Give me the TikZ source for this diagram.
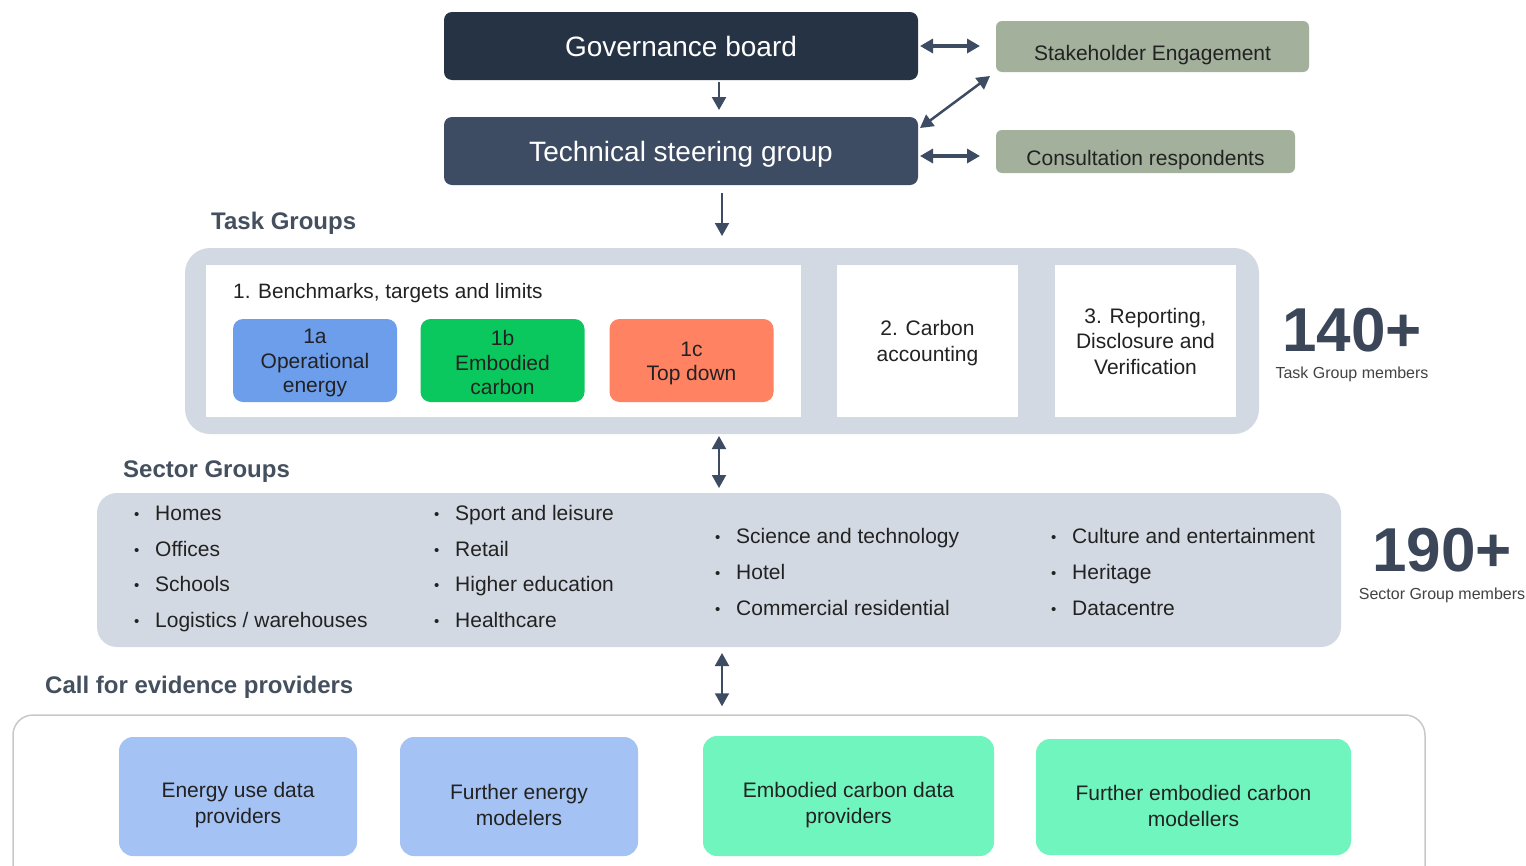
\documentclass[tikz,border=0pt]{standalone}
\usepackage{fontspec}
\setmainfont{Liberation Sans}
\usetikzlibrary{arrows.meta,positioning}
\definecolor{govblue}{HTML}{263345}
\definecolor{techblue}{HTML}{3D4B63}
\definecolor{sage}{HTML}{A3B09C}
\definecolor{panelgrey}{HTML}{D3D9E3}
\definecolor{opblue}{HTML}{6D9EEB}
\definecolor{embgreen}{HTML}{0BC85E}
\definecolor{topred}{HTML}{FF8262}
\definecolor{evblue}{HTML}{A4C2F4}
\definecolor{evgreen}{HTML}{71F5BE}
\definecolor{headgrey}{HTML}{45505F}
\definecolor{numgrey}{HTML}{3B4659}
\definecolor{arrowblue}{HTML}{3D4B63}
\definecolor{textdark}{HTML}{222222}
\definecolor{framegrey}{HTML}{C8C8C8}
\newcommand{\sz}[2]{\fontsize{#1}{#2}\selectfont}
\newcommand{\bul}{\makebox[21pt][l]{\raisebox{1pt}{\sz{15}{15}\textbullet}}}
\newcommand{\lift}[1]{\rule{0pt}{#1}}

\begin{document}
\begin{tikzpicture}[x=1pt,y=-1pt,
      box/.style={rounded corners=8pt,inner sep=0pt,outer sep=0pt,align=center,text=textdark},
      board/.style={box,text=white,minimum width=474pt,minimum height=68pt,text height=20pt,text depth=0pt,font=\sz{28}{32}},
      side/.style={box,fill=sage,rounded corners=6pt,text height=28pt,text depth=0pt,font=\sz{21}{25}},
      panel/.style={fill=panelgrey,rounded corners=#1,inner sep=0pt,outer sep=0pt},
      whitebox/.style={fill=white,inner sep=0pt,outer sep=0pt,minimum height=152pt,align=center,text=textdark,font=\sz{21}{25.5}},
      tgbox/.style={box,fill=#1,rounded corners=10pt,minimum width=164pt,minimum height=83pt,font=\sz{21}{24.5}},
      evbox/.style={box,fill=#1,rounded corners=14pt,font=\sz{21}{26}},
      heading/.style={anchor=west,inner sep=0pt,text=headgrey,font=\bfseries\sz{24}{28}},
      item/.style={anchor=west,inner sep=0pt,text height=17pt,text depth=2pt,text=textdark,font=\sz{21}{24}},
      bignum/.style={inner sep=0pt,text=numgrey,font=\bfseries\sz{62}{62}},
      members/.style={inner sep=0pt,text=textdark!85,font=\sz{16}{18}},
      link/.style={draw=arrowblue,line width=2.5pt,arrows={-Triangle[length=13pt,width=14pt]}},
      twoway/.style={draw=arrowblue,line width=2pt,arrows={Triangle[length=13pt,width=14pt]-Triangle[length=13pt,width=14pt]}}]

  \clip (0,0) rectangle (1526,865);
  \fill[white] (0,0) rectangle (1526,865);

  \node[board,fill=govblue] (gov) at (681,46) {Governance board};
  \node[board,fill=techblue] (tsg) at (681,151) {Technical steering group};
  \node[side,minimum width=313pt,minimum height=51pt] (stake) at (1152.5,46.5) {Stakeholder Engagement};
  \node[side,minimum width=299pt,minimum height=43pt] (consult) at (1145.5,151.5) {Consultation respondents};

  \node[heading] (tglabel) at (211,223) {Task Groups};
  \node[panel=25pt,minimum width=1074pt,minimum height=186pt] (tgpanel) at (722,341) {};
  \node[whitebox,minimum width=595pt] (bench) at (503.5,341) {};
  \node[whitebox,minimum width=181pt] (carbon) at (927.5,341) {\lift{19pt}2. Carbon\\accounting};
  \node[whitebox,minimum width=181pt] (report) at (1145.5,341) {3. Reporting,\\Disclosure and\\Verification};
  \node[anchor=west,inner sep=0pt,text=textdark,font=\sz{20.8}{24}] (benchtitle) at (233,293) {1. Benchmarks, targets and limits};
  \node[tgbox=opblue] (openergy) at (315,360.5) {\lift{20pt}1a\\Operational\\energy};
  \node[tgbox=embgreen] (embcarbon) at (502.5,360.5) {\lift{20pt}1b\\Embodied\\carbon};
  \node[tgbox=topred] (topdown) at (691.5,360.5) {\lift{20pt}1c\\Top down};
  \node[bignum] (tgnum) at (1352,330) {140+};
  \node[members,below=15pt of tgnum] (tgmembers) {Task Group members};

  \node[heading] (sglabel) at (123,471.5) {Sector Groups};
  \node[panel=20pt,minimum width=1244pt,minimum height=154pt] (sgpanel) at (719,570) {};
  \foreach \name [count=\i] in {Homes,Offices,Schools,Logistics / warehouses}
    \node[item] (sa\i) at (134,477.3+35.7*\i) {\bul\name};
  \foreach \name [count=\i] in {Sport and leisure,Retail,Higher education,Healthcare}
    \node[item] (sb\i) at (434,477.3+35.7*\i) {\bul\name};
  \foreach \name [count=\i] in {Science and technology,Hotel,Commercial residential}
    \node[item] (sc\i) at (715,500+36*\i) {\bul\name};
  \foreach \name [count=\i] in {Culture and entertainment,Heritage,Datacentre}
    \node[item] (sd\i) at (1051,500+36*\i) {\bul\name};
  \node[bignum] (sgnum) at (1442,550) {190+};
  \node[members,below=16pt of sgnum] (sgmembers) {Sector Group members};

  \node[heading] (evlabel) at (45,687.5) {Call for evidence providers};
  \node[draw=framegrey,line width=1.5pt,fill=white,rounded corners=20pt,minimum width=1412pt,minimum height=180pt,inner sep=0pt] (evpanel) at (719,805) {};
  \node[evbox=evblue,minimum width=238pt,minimum height=119pt] (energydata) at (238,796.5) {\lift{33pt}Energy use data\\providers};
  \node[evbox=evblue,minimum width=238pt,minimum height=119pt] (energymod) at (519,796.5) {\lift{33pt}Further energy\\modelers};
  \node[evbox=evgreen,minimum width=291pt,minimum height=120pt] (carbondata) at (848.5,796) {\lift{33pt}Embodied carbon data\\providers};
  \node[evbox=evgreen,minimum width=315pt,minimum height=116pt] (carbonmod) at (1193.5,797) {\lift{33pt}Further embodied carbon\\modellers};

  \draw[link,shorten <=2pt,shorten >=7pt] ([xshift=38pt]gov.south) -- ([xshift=38pt]tsg.north);
  \draw[link,line width=2pt,shorten <=8pt,shorten >=12pt] ([xshift=41pt]tsg.south) -- (tgpanel.north);
  \draw[twoway,line width=3.5pt,shorten <=2pt,shorten >=16pt] (gov.east) -- (stake.west |- gov.east);
  \draw[twoway,line width=3.5pt,shorten <=2pt,shorten >=16pt] ([yshift=-5pt]tsg.east) -- ([yshift=-5pt]consult.west |- tsg.east);
  \draw[twoway,line width=2.5pt] ([xshift=2pt,yshift=-11pt]tsg.north east) -- ([xshift=-6pt,yshift=-4pt]stake.south west);
  \draw[twoway,shorten <=2pt,shorten >=5pt] ([xshift=-3pt]tgpanel.south) -- (sgpanel.north);
  \draw[twoway,shorten <=6pt,shorten >=8pt] ([xshift=3pt]sgpanel.south) -- ([xshift=3pt]evpanel.north);
\end{tikzpicture}
\end{document}
